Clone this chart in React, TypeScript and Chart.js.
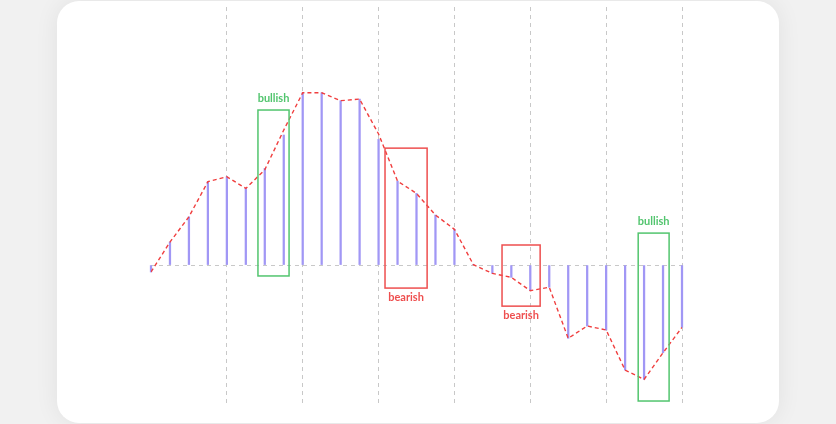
import React, { useEffect, useRef } from "react";
import { Chart, registerables } from "chart.js";

Chart.register(...registerables);

const indices = [0,1,2,3,4,5,6,7,8,9,10,11,12,13,14,15,16,17,18,19,20,21,22,23,24,25,26,27,28];
const barValues = [-0.35,1.16,2.43,4.2,4.45,3.86,4.87,6.55,8.68,8.68,8.28,8.36,6.33,4.23,3.61,2.52,1.8,0.02,-0.42,-0.62,-1.29,-1.12,-3.69,-3.07,-3.27,-5.29,-5.76,-4.42,-3.14];
const lineValues = [-0.35,1.16,2.43,4.2,4.45,3.86,4.8,6.8,8.68,8.68,8.28,8.36,6.6,4.23,3.61,2.52,1.8,0.02,-0.42,-0.62,-1.29,-1.12,-3.69,-3.07,-3.27,-5.29,-5.76,-4.42,-3.14];
const xTickStep = 4;
const yMin = -7;
const yMax = 13;

const boxLabels = ["bullish", "bearish", "bearish", "bullish"];
const boxKinds = ["bull", "bear", "bear", "bull"];
const boxXStart = [5.64, 12.34, 18.51, 25.69];
const boxXEnd = [7.28, 14.56, 20.52, 27.32];
const boxYTop = [7.81, 5.89, 1.01, 1.61];
const boxYBottom = [-0.55, -1.16, -2.07, -6.85];
const labelSide = ["top", "bottom", "bottom", "top"];

const GREEN = "#52c56e";
const RED = "#ee4f4f";

const boxPlugin = {
  id: "boxes",
  afterDatasetsDraw(chart: any) {
    const { ctx, scales } = chart;
    const xs = scales.x;
    const ys = scales.y;
    ctx.save();
    for (let i = 0; i < boxLabels.length; i++) {
      const color = boxKinds[i] === "bull" ? GREEN : RED;
      const x1 = xs.getPixelForValue(boxXStart[i]);
      const x2 = xs.getPixelForValue(boxXEnd[i]);
      const y1 = ys.getPixelForValue(boxYTop[i]);
      const y2 = ys.getPixelForValue(boxYBottom[i]);
      ctx.strokeStyle = color;
      ctx.lineWidth = 1.5;
      ctx.setLineDash([]);
      ctx.strokeRect(x1, y1, x2 - x1, y2 - y1);
      ctx.fillStyle = color;
      ctx.font = "700 11px Lato, 'Open Sans', sans-serif";
      ctx.textAlign = "center";
      ctx.textBaseline = "middle";
      const cx = (x1 + x2) / 2;
      const ty = labelSide[i] === "top" ? y1 - 12 : y2 + 9;
      ctx.fillText(boxLabels[i], cx, ty);
    }
    ctx.restore();
  },
};

export default function App() {
  const ref = useRef<HTMLCanvasElement>(null);
  useEffect(() => {
    document.body.style.margin = "0";
    const chart = new Chart(ref.current as HTMLCanvasElement, {
      type: "bar",
      data: {
        datasets: [
          {
            type: "line",
            data: indices.map((x, i) => ({ x, y: lineValues[i] })),
            borderColor: "#f03e3e",
            borderWidth: 1.4,
            borderDash: [4, 3],
            pointRadius: 0,
            fill: false,
            tension: 0,
            order: 0,
          } as any,
          {
            type: "bar",
            data: indices.map((x, i) => ({ x, y: barValues[i] })),
            backgroundColor: "#a197f5",
            barThickness: 1.6,
            clip: false,
            order: 1,
          } as any,
        ],
      },
      options: {
        animation: false,
        responsive: false,
        maintainAspectRatio: false,
        layout: { padding: { left: 151, right: 154, top: 7, bottom: 20 } },
        plugins: { legend: { display: false }, tooltip: { enabled: false } },
        scales: {
          x: {
            type: "linear",
            min: 0,
            max: 28,
            offset: false,
            ticks: { display: false, stepSize: xTickStep },
            grid: {
              offset: false,
              drawTicks: false,
              color: (c: any) => (c.tick && c.tick.value === 0 ? "rgba(0,0,0,0)" : "#c8c8c8"),
              lineWidth: 1,
            },
            border: { display: false, dash: [4, 4] },
          },
          y: {
            min: yMin,
            max: yMax,
            ticks: { display: false, stepSize: 1 },
            grid: {
              drawTicks: false,
              color: (c: any) => (c.tick && c.tick.value === 0 ? "#c8c8c8" : "rgba(0,0,0,0)"),
              lineWidth: 1,
            },
            border: { display: false, dash: [4, 4] },
          },
        },
      },
      plugins: [boxPlugin],
    });
    return () => chart.destroy();
  }, []);

  return (
    <div style={{ position: "fixed", left: 0, top: 0, width: 836, height: 424, background: "#f1f1f1", overflow: "hidden" }}>
      <div
        style={{
          position: "absolute",
          left: 57,
          top: 1,
          width: 722,
          height: 422,
          background: "#ffffff",
          borderRadius: 22,
          boxShadow: "0 0 24px rgba(0,0,0,0.07)",
        }}
      />
      <canvas ref={ref} width={836} height={424} style={{ position: "absolute", left: 0, top: 0, width: 836, height: 424 }} />
    </div>
  );
}
